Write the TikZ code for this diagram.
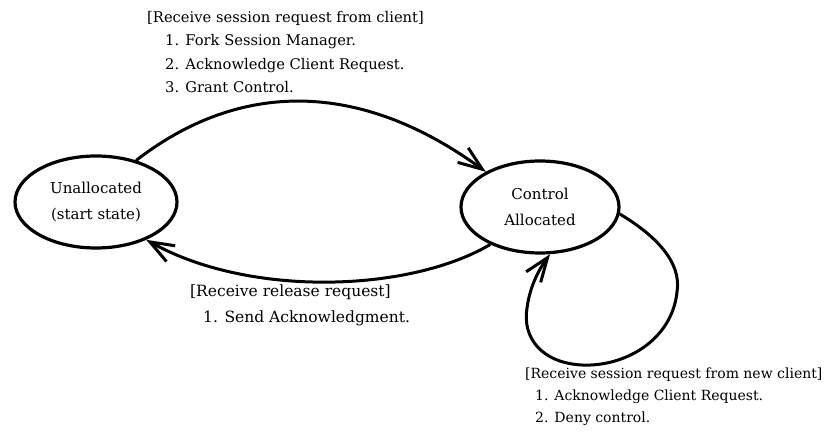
\documentclass[tikz,border=0pt]{standalone}
\usepackage{fontspec}
\setmainfont{DejaVu Serif}
\usetikzlibrary{arrows.meta,shapes.geometric}
\begin{document}
\begin{tikzpicture}[x=1pt,y=-1pt,
  state/.style={draw,line width=3.2pt,ellipse,minimum width=#1,minimum height=92pt,inner sep=0pt,align=center,font=\fontsize{15}{26}\selectfont},
  tip/.style={-{Straight Barb[length=24pt,width=18pt,line width=3pt]}},
  edge/.style={line width=3pt,tip},
  lbl/.style={align=left,inner sep=0pt,anchor=north west}]
\useasboundingbox (0,0) rectangle (827,443);
\node[state=162pt] (u) at (96,202) {Unallocated\\(start state)};
\node[state=158pt] (c) at (540,207) {Control\\Allocated};
% transitions
\draw[edge] (u.46) .. controls (240,80) and (360,80) .. (c.147);
\draw[edge] (c.-143) .. controls (410,292) and (250,298) .. (u.-37);
\draw[edge] (c.-5) .. controls (655,235) and (682,262) .. (677,292)
  .. controls (672,340) and (625,367) .. (582,365)
  .. controls (542,363) and (522,338) .. (527,308)
  .. controls (530,285) and (540,268) .. (c.-78);
% transition labels
\node[lbl,font=\fontsize{14.7}{23.5}\selectfont] (t1) at (147,11) {[Receive session request from client]\\
  \hspace*{18pt}1. Fork Session Manager.\\
  \hspace*{18pt}2. Acknowledge Client Request.\\
  \hspace*{18pt}3. Grant Control.};
\node[lbl,font=\fontsize{15.5}{26}\selectfont] (t2) at (190,285) {[Receive release request]\\
  \hspace*{13pt}1. Send Acknowledgment.};
\node[lbl,font=\fontsize{14}{22}\selectfont] (t3) at (525,368) {[Receive session request from new client]\\
  \hspace*{10pt}1. Acknowledge Client Request.\\
  \hspace*{10pt}2. Deny control.};
\end{tikzpicture}
\end{document}
